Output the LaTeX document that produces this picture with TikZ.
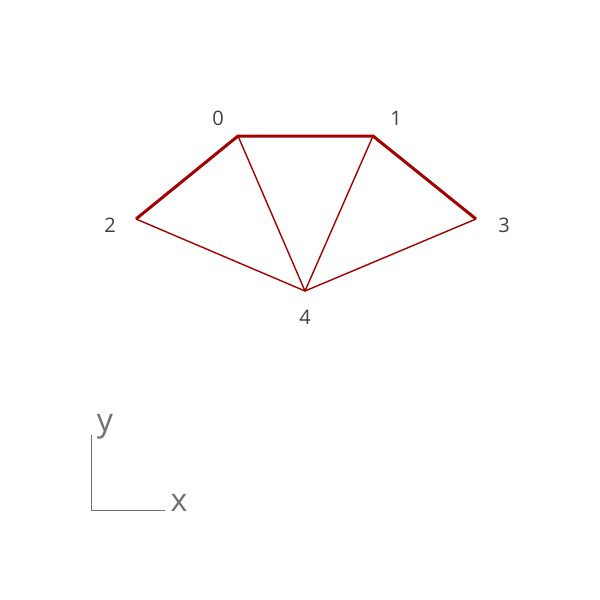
\documentclass[tikz,border=0pt]{standalone}
\usepackage{fontspec}
\setmainfont{Open Sans}
\definecolor{edgered}{HTML}{A50000}
\definecolor{labgray}{HTML}{404040}
\definecolor{axgray}{HTML}{707070}
\tikzset{
  vtx/.style={inner sep=0pt, minimum size=0pt},
  lab/.style={text=labgray, font=\fontsize{20}{24}\selectfont, inner sep=0pt},
  axlab/.style={text=axgray, font=\fontsize{32}{38}\selectfont, inner sep=0pt},
  thickedge/.style={draw=edgered, line width=3pt, line join=round},
  thinedge/.style={draw=edgered, line width=1.4pt, line join=round},
  axis/.style={draw=axgray, line width=1pt}
}
\begin{document}
\begin{tikzpicture}[x=1pt,y=-1pt]
\useasboundingbox (0,0) rectangle (600,600);
\coordinate (v0) at (238,136);
\coordinate (v1) at (373,136);
\coordinate (v2) at (136,219);
\coordinate (v3) at (476,219);
\coordinate (v4) at (305,291);
\draw[thinedge] (v2) -- (v4) -- (v3);
\draw[thinedge] (v0) -- (v4) -- (v1);
\draw[thickedge] (v2) -- (v0) -- (v1) -- (v3);
\node[lab] (l0) at (218,118) {0};
\node[lab] (l1) at (396,118) {1};
\node[lab] (l2) at (110,225) {2};
\node[lab] (l3) at (504,225) {3};
\node[lab] (l4) at (305,317) {4};
\coordinate (o) at (91,510);
\coordinate (ya) at (91,435);
\coordinate (xa) at (165,510);
\draw[axis] (ya) -- (o) -- (xa);
\node[axlab] (ly) at (105,427) {y};
\node[axlab] (lx) at (179,503) {x};
\end{tikzpicture}
\end{document}
